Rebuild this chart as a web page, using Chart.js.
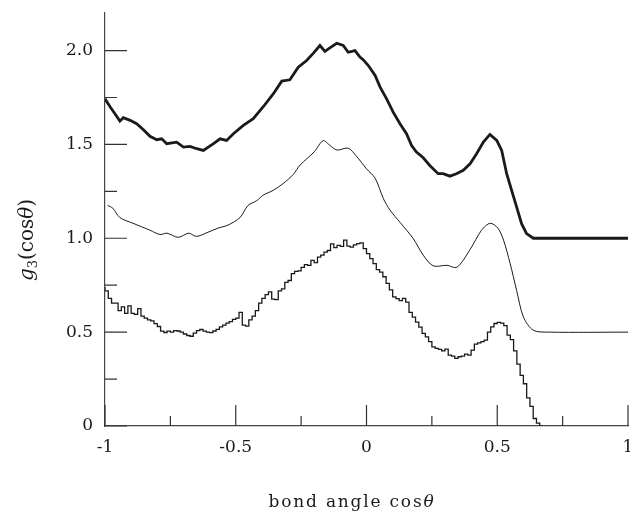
<!DOCTYPE html>
<html>
<head>
<meta charset="utf-8">
<script src="https://cdn.jsdelivr.net/npm/chart.js@4/dist/chart.umd.min.js"></script>
<style>
  body { margin: 0; background: #fff; }
  #wrap { width: 630px; height: 511px; }
</style>
</head>
<body>
<div id="wrap"><canvas id="g3Chart" width="630" height="511"></canvas></div>
<script>
// tick values and labels
const xTicksMajor = [-1, -0.5, 0, 0.5, 1];
const xTickLabels = ['-1', '-0.5', '0', '0.5', '1'];
const xTicksMinor = [-0.75, -0.25, 0.25, 0.75];
const yTicksMajor = [0, 0.5, 1, 1.5, 2];
const yTickLabels = ['0', '0.5', '1.0', '1.5', '2.0'];
const yTicksMinor = [0.25, 0.75, 1.25, 1.75];

// top curve (thick, shifted by +1)
const topX = [-1, -0.98, -0.962, -0.943, -0.93, -0.904, -0.879, -0.853, -0.828, -0.802,
    -0.783, -0.764, -0.726, -0.70, -0.675, -0.649, -0.624, -0.585, -0.56, -0.535,
    -0.509, -0.471, -0.433, -0.394, -0.356, -0.324, -0.293, -0.261, -0.229, -0.203,
    -0.178, -0.159, -0.14, -0.114, -0.089, -0.07, -0.044, -0.025, -0.012, 0.007,
    0.033, 0.052, 0.077, 0.102, 0.128, 0.153, 0.172, 0.191, 0.217, 0.242,
    0.274, 0.293, 0.319, 0.344, 0.37, 0.396, 0.421, 0.447, 0.472, 0.498,
    0.517, 0.536, 0.555, 0.574, 0.593, 0.612, 0.638, 0.7, 1];
const topY = [1.743, 1.699, 1.663, 1.624, 1.642, 1.628, 1.61, 1.578, 1.543, 1.525,
    1.53, 1.504, 1.512, 1.486, 1.489, 1.477, 1.468, 1.504, 1.53, 1.521,
    1.557, 1.601, 1.637, 1.702, 1.77, 1.837, 1.844, 1.911, 1.947, 1.986,
    2.027, 1.996, 2.014, 2.039, 2.027, 1.991, 2.0, 1.965, 1.95, 1.92,
    1.867, 1.805, 1.743, 1.672, 1.61, 1.557, 1.495, 1.459, 1.429, 1.388,
    1.344, 1.344, 1.331, 1.344, 1.362, 1.397, 1.45, 1.512, 1.553, 1.521,
    1.468, 1.344, 1.255, 1.167, 1.078, 1.025, 1.0, 1.0, 1.0];

// middle curve (thin, shifted by +0.5)
const midX = [-0.99, -0.97, -0.943, -0.893, -0.828, -0.79, -0.763, -0.72, -0.68, -0.65,
    -0.61, -0.57, -0.53, -0.484, -0.453, -0.42, -0.395, -0.357, -0.32, -0.28,
    -0.254, -0.2, -0.166, -0.14, -0.113, -0.07, -0.04, 0.0, 0.033, 0.065,
    0.09, 0.128, 0.178, 0.217, 0.255, 0.307, 0.346, 0.396, 0.44, 0.473,
    0.503, 0.524, 0.549, 0.574, 0.6, 0.638, 0.7, 1];
const midY = [1.175, 1.16, 1.11, 1.08, 1.043, 1.02, 1.027, 1.005, 1.027, 1.01,
    1.03, 1.053, 1.07, 1.11, 1.175, 1.2, 1.23, 1.255, 1.29, 1.34,
    1.39, 1.46, 1.52, 1.495, 1.47, 1.48, 1.44, 1.37, 1.32, 1.21,
    1.15, 1.085, 1.0, 0.91, 0.853, 0.856, 0.846, 0.94, 1.043, 1.08,
    1.053, 0.99, 0.867, 0.723, 0.581, 0.51, 0.5, 0.5];

// bottom histogram, bins start at -1, width 0.0125
const histStart = -1;
const histBin = 0.0125;
const histVals = [
    0.74, 0.72, 0.68, 0.655, 0.655, 0.615, 0.635, 0.60, 0.64, 0.60,
    0.595, 0.625, 0.585, 0.575, 0.565, 0.56, 0.545, 0.53, 0.505, 0.498,
    0.505, 0.50, 0.508, 0.506, 0.50, 0.49, 0.482, 0.478, 0.495, 0.508,
    0.514, 0.505, 0.50, 0.497, 0.506, 0.515, 0.528, 0.537, 0.548, 0.556,
    0.568, 0.575, 0.605, 0.537, 0.532, 0.565, 0.585, 0.615, 0.655, 0.68,
    0.70, 0.715, 0.676, 0.673, 0.72, 0.73, 0.765, 0.775, 0.812, 0.824,
    0.826, 0.845, 0.86, 0.856, 0.882, 0.87, 0.90, 0.91, 0.926, 0.935,
    0.97, 0.95, 0.962, 0.957, 0.99, 0.958, 0.953, 0.965, 0.972, 0.975,
    0.945, 0.918, 0.892, 0.865, 0.833, 0.82, 0.795, 0.76, 0.725, 0.688,
    0.678, 0.668, 0.68, 0.66, 0.605, 0.58, 0.553, 0.527, 0.493, 0.475,
    0.449, 0.422, 0.413, 0.408, 0.40, 0.41, 0.378, 0.372, 0.36, 0.369,
    0.372, 0.383, 0.378, 0.404, 0.436, 0.443, 0.449, 0.457, 0.50, 0.528,
    0.546, 0.552, 0.548, 0.535, 0.484, 0.46, 0.40, 0.33, 0.27, 0.225,
    0.15, 0.105, 0.04, 0.015, 0];

const SERIF = '"DejaVu Serif", serif';
const INK = '#1a1a1a';

// tick marks point inward, and the two axis titles (mixed italic / subscript)
const inwardTicks = {
    id: 'inwardTicks',
    afterDraw(chart) {
        const { ctx, chartArea, scales: { x, y } } = chart;
        ctx.save();
        ctx.strokeStyle = '#333';
        ctx.lineWidth = 1.2;
        ctx.beginPath();
        xTicksMajor.forEach(v => {
            const px = x.getPixelForValue(v);
            ctx.moveTo(px, chartArea.bottom);
            ctx.lineTo(px, chartArea.bottom - 21);
        });
        xTicksMinor.forEach(v => {
            const px = x.getPixelForValue(v);
            ctx.moveTo(px, chartArea.bottom);
            ctx.lineTo(px, chartArea.bottom - 10);
        });
        yTicksMajor.forEach(v => {
            const py = y.getPixelForValue(v);
            ctx.moveTo(chartArea.left, py);
            ctx.lineTo(chartArea.left + 22, py);
        });
        yTicksMinor.forEach(v => {
            const py = y.getPixelForValue(v);
            ctx.moveTo(chartArea.left, py);
            ctx.lineTo(chartArea.left + 12, py);
        });
        ctx.stroke();

        // x title
        ctx.fillStyle = INK;
        ctx.textBaseline = 'alphabetic';
        ctx.textAlign = 'left';
        ctx.letterSpacing = '1.8px';
        const fN = '17px ' + SERIF, fI = 'italic 17px ' + SERIF;
        ctx.font = fN;
        const w1 = ctx.measureText('bond angle cos').width;
        ctx.font = fI;
        const w2 = ctx.measureText('\u03b8').width;
        let tx = 352 - (w1 + w2) / 2;
        ctx.font = fN;
        ctx.fillText('bond angle cos', tx, 507);
        ctx.font = fI;
        ctx.fillText('\u03b8', tx + w1, 507);

        // y title, rotated
        ctx.letterSpacing = '0px';
        const parts = [
            { t: 'g', f: 'italic 20px ' + SERIF, dy: 0 },
            { t: '3', f: '13px ' + SERIF, dy: 4 },
            { t: '(cos', f: '20px ' + SERIF, dy: 0 },
            { t: '\u03b8', f: 'italic 20px ' + SERIF, dy: 0 },
            { t: ')', f: '20px ' + SERIF, dy: 0 }
        ];
        let total = 0;
        parts.forEach(p => { ctx.font = p.f; p.w = ctx.measureText(p.t).width; total += p.w; });
        ctx.translate(27, 240);
        ctx.rotate(-Math.PI / 2);
        let cx = -total / 2;
        parts.forEach(p => {
            ctx.font = p.f;
            ctx.fillText(p.t, cx, 6 + p.dy);
            cx += p.w;
        });
        ctx.restore();
    }
};

const ctx = document.getElementById('g3Chart').getContext('2d');
const g3Chart = new Chart(ctx, {
    type: 'line',
    data: {
        datasets: [{
            label: 'top',
            data: topX.map((v, i) => ({ x: v, y: topY[i] })),
            borderColor: INK,
            borderWidth: 2.8,
            pointRadius: 0,
            tension: 0
        }, {
            label: 'middle',
            data: midX.map((v, i) => ({ x: v, y: midY[i] })),
            borderColor: INK,
            borderWidth: 1,
            pointRadius: 0,
            tension: 0.3
        }, {
            label: 'histogram',
            data: histVals.map((v, i) => ({ x: histStart + i * histBin, y: v })),
            borderColor: INK,
            borderWidth: 1.3,
            pointRadius: 0,
            stepped: 'after'
        }]
    },
    options: {
        responsive: false,
        animation: false,
        layout: { padding: { top: 13, right: 2, left: 0, bottom: 0 } },
        plugins: { legend: { display: false }, tooltip: { enabled: false } },
        scales: {
            x: {
                type: 'linear',
                min: -1,
                max: 1,
                grid: { display: false, drawTicks: false },
                border: { display: true, color: '#444', width: 1.2 },
                ticks: {
                    font: { family: SERIF, size: 17 },
                    color: INK,
                    padding: 11,
                    maxRotation: 0,
                    autoSkip: false,
                    callback: (v) => xTickLabels[xTicksMajor.indexOf(v)]
                },
                afterBuildTicks: (s) => { s.ticks = xTicksMajor.map(v => ({ value: v })); },
                afterFit: (s) => { s.height = 85; s.paddingLeft = 0; s.paddingRight = 0; }
            },
            y: {
                type: 'linear',
                min: 0,
                max: 2.2,
                grid: { display: false, drawTicks: false },
                border: { display: true, color: '#444', width: 1.2 },
                ticks: {
                    font: { family: SERIF, size: 17 },
                    color: INK,
                    padding: 12,
                    autoSkip: false,
                    callback: (v) => yTickLabels[yTicksMajor.indexOf(v)]
                },
                afterBuildTicks: (s) => { s.ticks = yTicksMajor.map(v => ({ value: v })); },
                afterFit: (s) => { s.width = 105; s.paddingTop = 0; s.paddingBottom = 0; }
            }
        }
    },
    plugins: [inwardTicks]
});
</script>
</body>
</html>
